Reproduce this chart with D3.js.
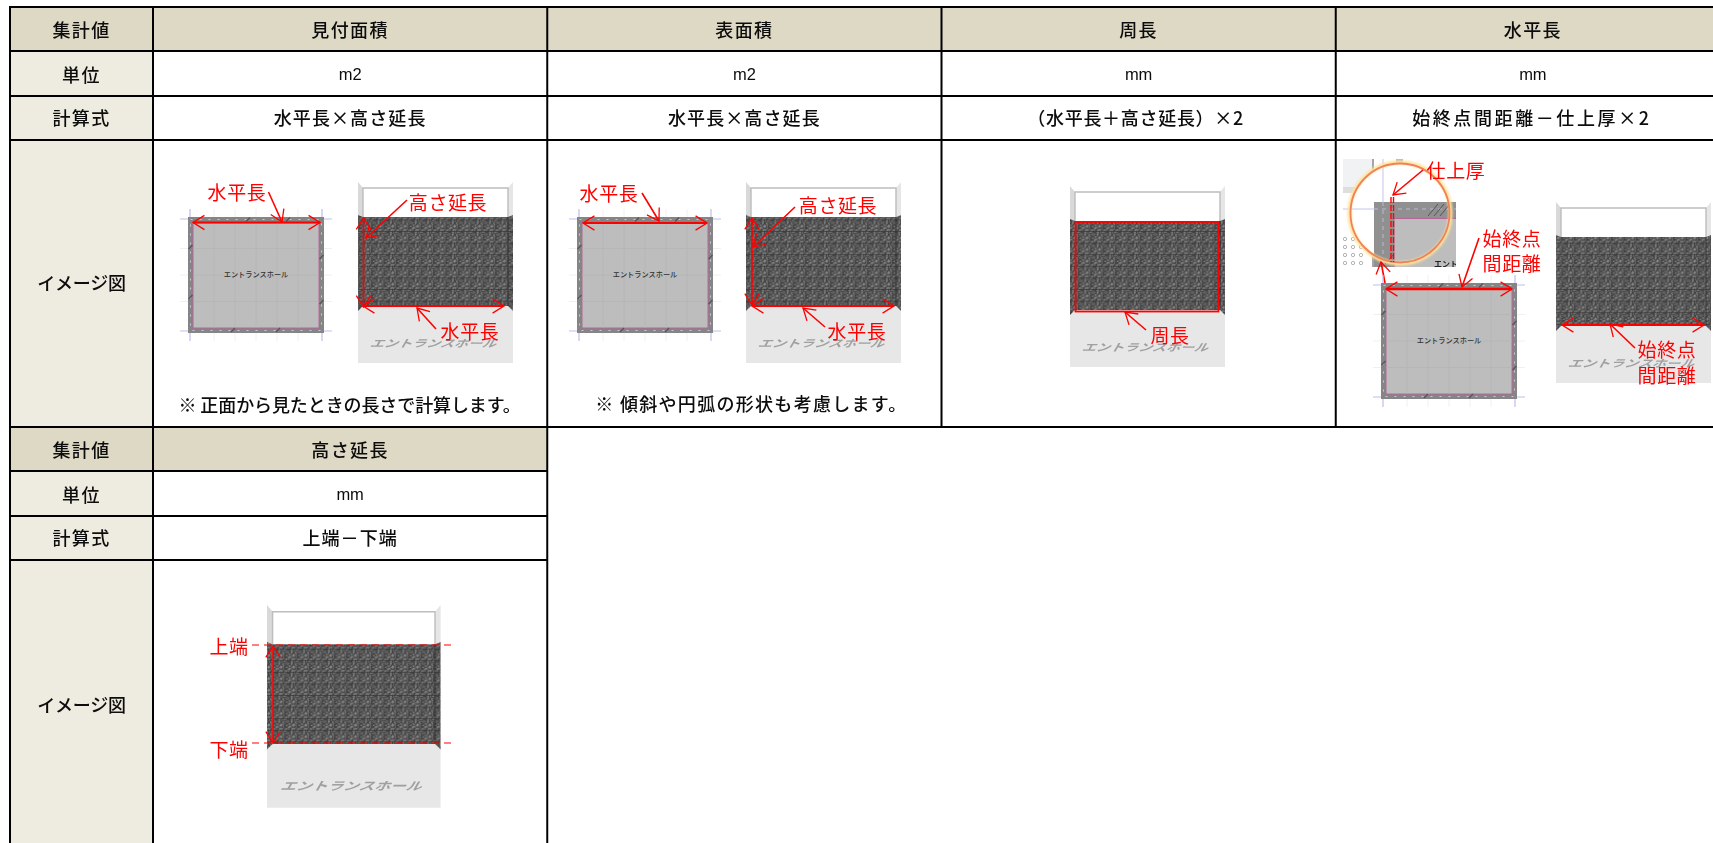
<!DOCTYPE html>
<html lang="ja"><head><meta charset="utf-8">
<script src="https://cdn.jsdelivr.net/npm/d3@7/dist/d3.min.js"></script>
<style>
html,body{margin:0;padding:0;background:#fff;overflow:hidden}
svg{display:block;filter:blur(.4px)}
text{font-family:"Noto Sans CJK JP","Noto Sans",sans-serif;fill:#0c0c0c}
</style></head><body><svg id="c"></svg>
<script>
const rowLabels=["集計値","単位","計算式","イメージ図"];
const headers=["見付面積","表面積","周長","水平長"];
const units=["m2","m2","mm","mm"];
const formulas=["水平長×高さ延長","水平長×高さ延長","（水平長＋高さ延長）×2","始終点間距離－仕上厚×2"];
const notes=["※ 正面から見たときの長さで計算します。","※ 傾斜や円弧の形状も考慮します。"];
const header2=["高さ延長"];
const units2=["mm"];
const formulas2=["上端－下端"];
const roomName="エントランスホール";
const roomNameCut="エントラ";

const W=1713,H=843,RED="#ff0000";
const svg=d3.select("#c").attr("width",W).attr("height",H).attr("viewBox",[0,0,W,H]);
const x=d3.scaleBand().domain(d3.range(4)).range([153,1730]);
const rowEdges=[[7,51,96,140,427],[427,471,516,560,880]];
const defs=svg.append("defs");
// wall texture
const grain=defs.append("filter").attr("id","grain").attr("x",0).attr("y",0).attr("width","100%").attr("height","100%");
grain.append("feTurbulence").attr("type","fractalNoise").attr("baseFrequency",.5).attr("numOctaves",2).attr("seed",4).attr("stitchTiles","stitch").attr("result","n");
grain.append("feColorMatrix").attr("in","n").attr("type","matrix").attr("values","0 0 0 0 .42  0 0 0 0 .42  0 0 0 0 .42  1.1 0 0 0 -.42").attr("result","c");
grain.append("feComposite").attr("in","c").attr("in2","SourceGraphic").attr("operator","in").attr("result","m");
const mg=grain.append("feMerge"); mg.append("feMergeNode").attr("in","SourceGraphic"); mg.append("feMergeNode").attr("in","m");
const pat=defs.append("pattern").attr("id","wall").attr("patternUnits","userSpaceOnUse").attr("width",12.4).attr("height",11.6);
const patG=pat.append("g").attr("filter","url(#grain)");
patG.append("rect").attr("width",12.4).attr("height",11.6).attr("fill","#434343");
patG.append("path").attr("d","M1 9L5 4L7 6L10 2L12 4L8 9L6 7L3 10Z").attr("fill","#525252");
pat.append("path").attr("d","M0 11.2H12.4").attr("stroke","#3a3a3a").attr("stroke-width",.8).attr("fill","none");
defs.append("filter").attr("id","glow").attr("x","-20%").attr("y","-20%").attr("width","140%").attr("height","140%").append("feGaussianBlur").attr("stdDeviation",1.2);
const shot=defs.append("clipPath").attr("id","shot");
shot.append("rect").attr("x",1343).attr("y",159).attr("width",113).attr("height",108);

const g=svg.append("g");
function cellText(t,cx,cy,o={}){
  return g.append("text").attr("x",cx).attr("y",cy).attr("text-anchor","middle").attr("dominant-baseline","central")
   .attr("font-size",o.size||18).attr("font-weight",o.size?400:500).style("letter-spacing",(o.ls??1.1)+"px").style("font-family",o.font||null).text(t);
}
function table(edges,heads,us,fs,cols,fls,fdx){
  const xs=[10,...cols.map(i=>x(i)),x(cols[cols.length-1])+x.bandwidth()];
  const [r0,r1,r2,r3,r4]=edges;
  g.append("rect").attr("x",xs[0]).attr("y",r0).attr("width",xs[xs.length-1]-xs[0]).attr("height",r1-r0).attr("fill","#ddd9c4");
  g.append("rect").attr("x",xs[0]).attr("y",r1).attr("width",xs[1]-xs[0]).attr("height",r4-r1).attr("fill","#eeece1");
  rowLabels.forEach((t,i)=>{
    const mid=(edges[i]+(i==3?Math.min(edges[4],edges[3]+287):edges[i+1]))/2;
    const dy=i==2?-1.5:(i==3&&r0<100?-1.5:0);
    cellText(t,(xs[0]+xs[1])/2,mid+dy,{ls:i==3?-.2:1.4});
  });
  cols.forEach((c,i)=>{
    const cx=x(c)+x.bandwidth()/2;
    cellText(heads[i],cx,(r0+r1)/2,{ls:1.4});
    cellText(us[i],cx,(r1+r2)/2,{size:16.5,ls:0,font:'"Liberation Sans",sans-serif'});
    cellText(fs[i],cx+fdx[i],(r2+r3)/2-1.5,{ls:fls[i]});
  });
  return {xs,edges};
}
const t1=table(rowEdges[0],headers,units,formulas,[0,1,2,3],[1.1,1.1,.7,2.6],[0,0,-3,-1]);
const t2=table(rowEdges[1],header2,units2,formulas2,[0],[1.1],[0]);
cellText(notes[0],x(0)+x.bandwidth()/2-.5,404,{ls:-.1});
cellText(notes[1],751.5,403,{ls:1.3});

function plan(ox,oy){
  const w=136,h=116,p=g.append("g").attr("transform",`translate(${ox},${oy})`);
  const gx=d3.scaleLinear([0,6],[5,131]), gy=d3.scaleLinear([0,4],[5,111]);
  d3.range(1,6).forEach(i=>p.append("line").attr("x1",gx(i)).attr("x2",gx(i)).attr("y1",-8).attr("y2",h+8).attr("stroke","#f0f0f0"));
  d3.range(1,4).forEach(i=>p.append("line").attr("y1",gy(i)).attr("y2",gy(i)).attr("x1",-8).attr("x2",w+8).attr("stroke","#f0f0f0"));
  p.append("path").attr("d",`M2 -8V${h+8}M${w-2} -8V${h+8}M-8 2H${w+8}M-8 ${h-2}H${w+8}`).attr("stroke","#bcbfee").attr("stroke-width",1.2).attr("fill","none");
  p.append("rect").attr("width",w).attr("height",h).attr("fill","#858585");
  p.append("rect").attr("x",5).attr("y",6).attr("width",w-10).attr("height",h-11).attr("fill","#bdbdbd").attr("stroke","#b4669a").attr("stroke-width",1);
  d3.range(1,6).forEach(i=>p.append("line").attr("x1",gx(i)).attr("x2",gx(i)).attr("y1",6.5).attr("y2",h-5.5).attr("stroke","#b6b6b6"));
  d3.range(1,4).forEach(i=>p.append("line").attr("y1",gy(i)).attr("y2",gy(i)).attr("x1",5.5).attr("x2",w-5.5).attr("stroke","#b6b6b6"));
  p.append("rect").attr("x",2.5).attr("y",2.5).attr("width",w-5).attr("height",h-5).attr("fill","none").attr("stroke","#c6c6de").attr("stroke-dasharray","2 7");
  [[60,2.5],[100,2.5],[45,113],[90,113],[2.5,30],[2.5,80],[133.5,40],[133.5,85]].forEach(([a,b])=>p.append("path").attr("d",`M${a-2} ${b+2}L${a+2} ${b-2}`).attr("stroke","#555").attr("stroke-width",1.2));
  p.append("text").attr("x",w/2).attr("y",h/2-1).attr("text-anchor","middle").attr("dominant-baseline","central").attr("font-size",7.2).attr("font-weight",500).style("fill","#333").text(roomName);
}
function elev(ox,oy,k=1){
  const sx=d3.scaleLinear([0,155],[ox,ox+155*k]), sy=d3.scaleLinear([0,181],[oy,oy+181*k]);
  const P=pts=>"M"+pts.map(([a,b])=>`${sx(a)} ${sy(b)}`).join("L")+"Z";
  const e=g.append("g");
  e.append("path").attr("d",P([[0,0],[5,6],[5,35],[0,33]])).attr("fill","#d9d9d9");
  e.append("path").attr("d",P([[150,6],[155,0],[155,33],[150,35]])).attr("fill","#e6e6e6");
  e.append("path").attr("d",P([[5,6],[150,6],[150,35],[5,35]])).attr("fill","#fff");
  e.append("path").attr("d",`M${sx(5)} ${sy(35)}V${sy(6)}H${sx(150)}V${sy(35)}`).attr("fill","none").attr("stroke","#bdbdbd").attr("stroke-width",1.4);
  e.append("path").attr("d",P([[0,124],[5,124],[150,124],[155,129],[155,181],[0,181]])).attr("fill","#e7e7e7");
  e.append("path").attr("d",P([[0,33],[5,35],[5,124],[0,129]])).attr("fill","url(#wall)");
  e.append("path").attr("d",P([[150,35],[155,33],[155,129],[150,124]])).attr("fill","url(#wall)");
  e.append("path").attr("d",P([[5,35],[150,35],[150,124],[5,124]])).attr("fill","url(#wall)");
  e.append("line").attr("x1",sx(150)).attr("x2",sx(150)).attr("y1",sy(35)).attr("y2",sy(124)).attr("stroke","#2c2c2c").attr("stroke-width",.8);
  e.append("text").attr("transform",`translate(${sx(77)},${sy(160.5)}) skewX(-30) scale(1,.72)`).attr("text-anchor","middle").attr("dominant-baseline","central")
    .attr("font-size",14*k).attr("font-weight",700).attr("textLength",126*k).attr("lengthAdjust","spacingAndGlyphs").style("fill","#a0a0a0").text(roomName);
}
function arrow(a,b,c,d,o={}){
  const w=o.w||1.6,L=o.len||13.5,ang=o.ang||.56;
  g.append("line").attr("x1",a).attr("y1",b).attr("x2",c).attr("y2",d).attr("stroke",RED).attr("stroke-width",w);
  const head=(px,py,qx,qy)=>{
    const th=Math.atan2(qy-py,qx-px);
    const pt=t=>[px+L*Math.cos(th+t),py+L*Math.sin(th+t)];
    const [p1,p2]=[pt(ang),pt(-ang)];
    g.append("path").attr("d",`M${p1}L${px} ${py}L${p2}`).attr("fill","none").attr("stroke",RED).attr("stroke-width",1.3);
  };
  head(c,d,a,b); if(o.both) head(a,b,c,d);
}
function label(t,a,b){
  g.append("text").attr("x",a).attr("y",b).attr("text-anchor","middle").attr("dominant-baseline","central").attr("font-size",19).style("letter-spacing",".6px").style("fill",RED).text(t);
}

// column 1
plan(188,217); elev(358,182);
arrow(193,222.5,320,222.5,{both:1,w:2});
arrow(268.5,192,282,222); label("水平長",237,191);
arrow(363.5,218,363.5,307,{both:1}); arrow(363,306,504,306,{both:1,w:2});
arrow(407,200,366,238); label("高さ延長",448,201);
arrow(436,329,417,308); label("水平長",470,330);
// column 2
plan(577,217); elev(746,182);
arrow(583,223,707,223,{both:1,w:2});
arrow(642,193,659,221); label("水平長",609,192);
arrow(752,218,752,305,{both:1}); arrow(752,306,894,306,{both:1,w:2});
arrow(795,207,753,247); label("高さ延長",838,204);
arrow(825,327,803,308); label("水平長",857,330);
// column 3
elev(1070,186);
g.append("rect").attr("x",1075.5).attr("y",222).attr("width",143).attr("height",89.5).attr("fill","none").attr("stroke",RED).attr("stroke-width",1.8);
arrow(1146,330,1125,312); label("周長",1170,334);
// column 4: magnifier inset
const m=g.append("g").attr("clip-path","url(#shot)");
m.append("rect").attr("x",1343).attr("y",159).attr("width",30).attr("height",34).attr("fill","#f0f2f4");
m.append("rect").attr("x",1343).attr("y",187).attr("width",30).attr("height",6).attr("fill","#dedede");
m.append("rect").attr("x",1372).attr("y",159).attr("width",2).attr("height",108).attr("fill","#a5a5a5");
m.append("rect").attr("x",1396).attr("y",159).attr("width",7).attr("height",4).attr("fill","#b0b8c0");
d3.range(5).forEach(i=>d3.range(i<1?0:3).forEach(j=>m.append("circle").attr("cx",1345+j*8).attr("cy",231+i*8).attr("r",1.7).attr("fill","none").attr("stroke","#b5b5b5")));
m.append("circle").attr("cx",1400).attr("cy",213).attr("r",50).attr("fill","#fff");
m.append("path").attr("d","M1383 159V267M1343 209H1450").attr("stroke","#c2c5ee").attr("stroke-width",1).attr("fill","none");
m.append("rect").attr("x",1374).attr("y",202).attr("width",82).attr("height",65).attr("fill","#909090");
m.append("rect").attr("x",1394).attr("y",218).attr("width",62).attr("height",49).attr("fill","#bdbdbd");
m.append("path").attr("d","M1394 267V218.5H1456").attr("fill","none").attr("stroke","#b4669a");
m.append("path").attr("d","M1383 202V267M1374 209H1456").attr("stroke","#b7b9d8").attr("stroke-dasharray","4 4").attr("fill","none");
m.append("path").attr("d","M1428 216L1438 204M1434 216L1444 204M1440 216L1450 204M1385 264L1394 254").attr("stroke","#555").attr("fill","none");
m.append("text").attr("x",1434).attr("y",263).attr("dominant-baseline","central").attr("font-size",8).attr("font-weight",700).style("fill","#222").text(roomNameCut);
g.append("circle").attr("cx",1400).attr("cy",213).attr("r",50.5).attr("fill","none").attr("stroke","#ffe39a").attr("stroke-width",4).attr("filter","url(#glow)");
g.append("circle").attr("cx",1400).attr("cy",213).attr("r",49.5).attr("fill","none").attr("stroke","#f0825a").attr("stroke-width",1.8);
g.append("path").attr("d","M1391 197V262M1393.5 197V262").attr("stroke",RED).attr("stroke-width",1.4).attr("stroke-dasharray","6 2").attr("fill","none");
arrow(1423,170,1393,195); label("仕上厚",1456,169);
arrow(1385,283,1381,262);
plan(1381,283); elev(1556,202);
arrow(1386,289,1512,289,{both:1,w:2.4});
arrow(1479,238,1462,287); label("始終点",1512,237); label("間距離",1512,262);
arrow(1562,325,1704,325,{both:1,w:2});
arrow(1635,348,1610,324); label("始終点",1667,348); label("間距離",1667,374);
// second table diagram
elev(267,605,1.12);
g.append("path").attr("d","M252 645H453M252 743H453").attr("stroke",RED).attr("stroke-width",1.2).attr("stroke-dasharray","7 5").attr("fill","none");
arrow(273,646,273,743,{both:1});
label("上端",229,645); label("下端",229,748);

// grid lines last
const rule=svg.append("g").attr("stroke","#000").attr("stroke-width",2);
[t1,t2].forEach((t,n)=>{
  t.edges.slice(0,n?4:5).forEach(y=>rule.append("line").attr("x1",9).attr("x2",t.xs[t.xs.length-1]).attr("y1",y).attr("y2",y));
  t.xs.forEach(v=>rule.append("line").attr("x1",v).attr("x2",v).attr("y1",t.edges[0]-1).attr("y2",t.edges[4]+1));
});
</script></body></html>
